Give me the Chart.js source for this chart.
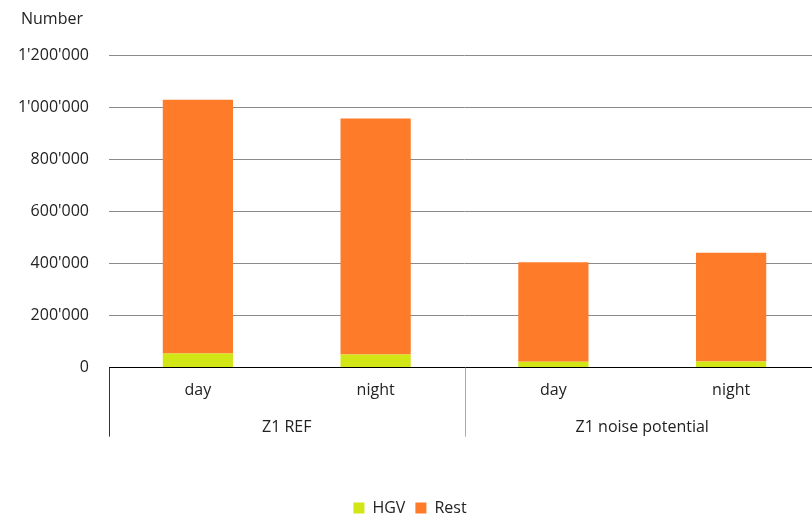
<!DOCTYPE html>
<html>
<head>
<meta charset="utf-8">
<script src="https://cdn.jsdelivr.net/npm/chart.js@4/dist/chart.umd.min.js"></script>
<style>
  html, body { margin: 0; padding: 0; overflow: hidden; background: #fff; }
  #wrap { width: 822px; height: 526px; position: relative; }
</style>
</head>
<body>
<div id="wrap"><canvas id="c"></canvas></div>
<script>
// Vehicle counts per zone and period
const periods = ['day', 'night', 'day', 'night'];
const zones = ['Z1 REF', 'Z1 noise potential'];
const hgv = [54000, 50000, 22000, 23000];
const rest = [974000, 906000, 382000, 418000];
const yTicks = [0, 200000, 400000, 600000, 800000, 1000000, 1200000];

const FONT = '"Open Sans", sans-serif';
const TEXT = '#222';

function fmt(v) {
  return String(v).replace(/\B(?=(\d{3})+(?!\d))/g, "'");
}

// Axis caption above the value labels and group dividers under the category axis
const decor = {
  id: 'decor',
  afterDraw(chart) {
    const { ctx, scales } = chart;
    const x = scales.x;
    ctx.save();
    ctx.font = '16px ' + FONT;
    ctx.fillStyle = TEXT;
    ctx.textAlign = 'center';
    ctx.textBaseline = 'middle';
    ctx.fillText('Number', 52, 19);

    const top = chart.chartArea.bottom;
    const bottom = top + 69;
    const step = x.getPixelForValue(1) - x.getPixelForValue(0);
    const edges = [x.getPixelForValue(0) - step / 2, (x.getPixelForValue(1) + x.getPixelForValue(2)) / 2, x.getPixelForValue(3) + step / 2];
    edges.forEach((px, i) => {
      ctx.strokeStyle = i === 0 ? '#333' : '#aaa';
      ctx.lineWidth = 1;
      ctx.beginPath();
      ctx.moveTo(Math.round(px) + 0.5, top);
      ctx.lineTo(Math.round(px) + 0.5, bottom);
      ctx.stroke();
    });
    ctx.restore();
  }
};

new Chart(document.getElementById('c'), {
  type: 'bar',
  data: {
    labels: periods,
    datasets: [
      { label: 'HGV', data: hgv, backgroundColor: '#d3e615', borderWidth: 0 },
      { label: 'Rest', data: rest, backgroundColor: '#fd7b29', borderWidth: 0 }
    ]
  },
  options: {
    responsive: true,
    maintainAspectRatio: false,
    animation: false,
    layout: { padding: { top: 55, right: 2, left: 0, bottom: 0 } },
    datasets: { bar: { categoryPercentage: 1, barPercentage: 0.395 } },
    scales: {
      x: {
        stacked: true,
        grid: { display: false, drawTicks: false },
        border: { display: true, color: '#000', width: 1 },
        ticks: { color: TEXT, font: { family: FONT, size: 16 }, padding: 13 }
      },
      x2: {
        type: 'category',
        labels: zones,
        position: 'bottom',
        offset: true,
        grid: { display: false, drawTicks: false },
        border: { display: false },
        ticks: { color: TEXT, font: { family: FONT, size: 16 }, padding: 5 },
        afterFit(s) { s.height += 48; }
      },
      y: {
        stacked: true,
        min: 0,
        max: 1200000,
        afterBuildTicks(s) { s.ticks = yTicks.map(v => ({ value: v })); },
        afterFit(s) { s.width = 109; },
        border: { display: false },
        grid: {
          drawTicks: false,
          color: ctx => (ctx.tick && ctx.tick.value === 0) ? 'rgba(0,0,0,0)' : '#8a8a8a'
        },
        ticks: {
          color: TEXT,
          font: { family: FONT, size: 16 },
          padding: 20,
          callback: v => fmt(v)
        }
      }
    },
    plugins: {
      legend: {
        position: 'bottom',
        labels: {
          color: TEXT,
          font: { family: FONT, size: 16 },
          boxWidth: 11,
          boxHeight: 11,
          padding: 10
        }
      },
      title: { display: false },
      tooltip: { enabled: false }
    }
  },
  plugins: [decor]
});
</script>
</body>
</html>
